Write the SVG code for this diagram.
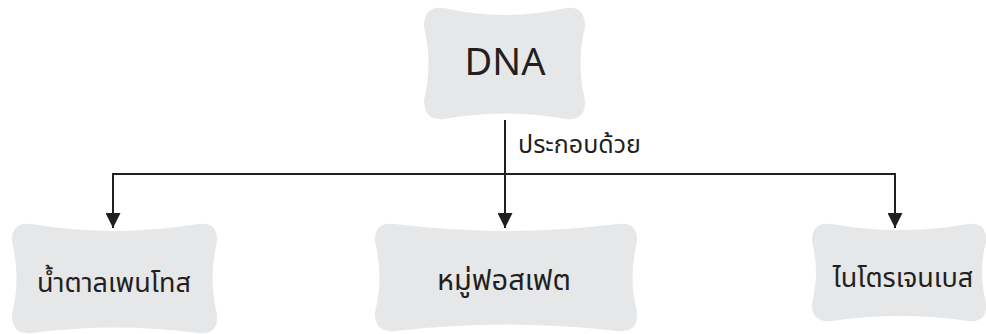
<svg xmlns="http://www.w3.org/2000/svg" width="986" height="334" viewBox="0 0 986 334">
  <style>
    .box { fill: #e6e7e8; stroke: none; }
    .wire { fill: none; stroke: #231f20; stroke-width: 2; }
    .label { font-family: "Noto Sans Thai", "Noto Sans", "DejaVu Sans", sans-serif; fill: #231f20; }
  </style>
  <defs>
    <marker id="arrow" viewBox="0 0 15 15" refX="15" refY="7.5" markerWidth="15" markerHeight="15" markerUnits="userSpaceOnUse" orient="auto">
      <path d="M0,0 L15,7.5 L0,15 Z" fill="#231f20"/>
    </marker>
  </defs>
  <rect width="986" height="334" fill="#ffffff"/>

  <g id="node-dna">
    <path class="box" d="M444,8 Q505,22 566,8 Q585,5 585,27 Q576,63 585,100 Q586,121 566,119 Q505,108 444,119 Q424,121 424,100 Q433,63 424,27 Q424,5 444,8 Z"/>
    <text class="label" x="505" y="75" font-size="38" text-anchor="middle">DNA</text>
  </g>

  <g id="connectors">
    <path class="wire" d="M505,120 V228" marker-end="url(#arrow)"/>
    <path class="wire" d="M112,174 H896"/>
    <path class="wire" d="M113,173 V228" marker-end="url(#arrow)"/>
    <path class="wire" d="M895,173 V228" marker-end="url(#arrow)"/>
    <text class="label" x="518" y="153" font-size="25">ประกอบด้วย</text>
  </g>

  <g id="node-pentose">
    <path class="box" d="M32,224 Q114,238 198,224 Q218,221 217,242 Q208,278 217,314 Q219,335 198,333 Q114,322 32,333 Q11,335 12,314 Q21,278 12,242 Q11,221 32,224 Z"/>
    <text class="label" x="114" y="292" font-size="27" text-anchor="middle">น้ำตาลเพนโทส</text>
  </g>

  <g id="node-phosphate">
    <path class="box" d="M395,224 Q506,238 617,224 Q638,221 637,242 Q628,277 637,312 Q639,333 617,331 Q506,318 395,331 Q374,333 375,312 Q384,277 375,242 Q374,221 395,224 Z"/>
    <text class="label" x="504" y="290" font-size="29" text-anchor="middle">หมู่ฟอสเฟต</text>
  </g>

  <g id="node-base">
    <path class="box" d="M832,224 Q900,236 968,224 Q987,221 986,242 Q978,272 986,303 Q988,323 968,321 Q900,311 832,321 Q811,323 812,303 Q820,272 812,242 Q811,221 832,224 Z"/>
    <text class="label" x="903" y="287" font-size="27" text-anchor="middle">ไนโตรเจนเบส</text>
  </g>
</svg>
